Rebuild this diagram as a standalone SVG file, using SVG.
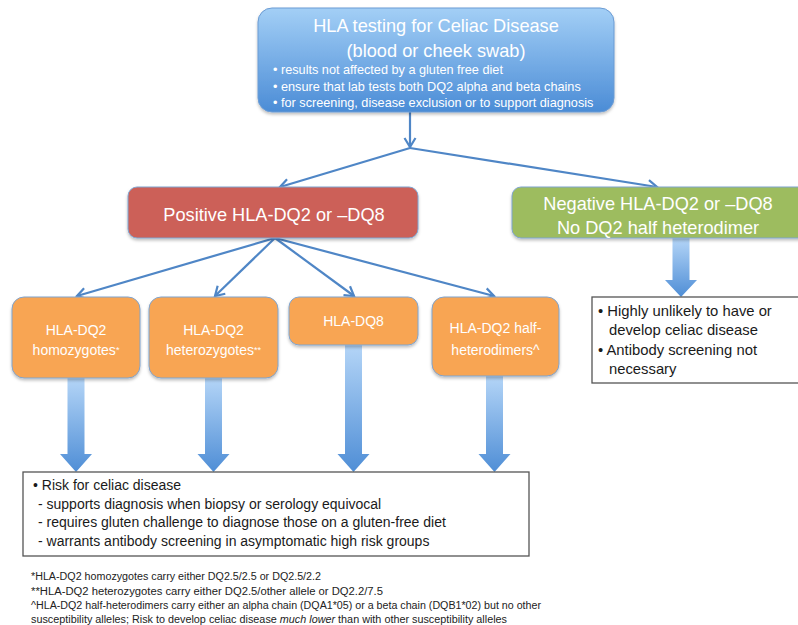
<svg xmlns="http://www.w3.org/2000/svg" width="798" height="625" viewBox="0 0 798 625">
<style>
text{font-family:"Liberation Sans",Arial,sans-serif}
.w{fill:#fff}
.t18{font-size:18.2px}
.t14{font-size:14px}
.b{font-size:12.7px}
.blk{fill:#1a1a1a;font-size:14px}
.neg{fill:#1a1a1a;font-size:14.8px}
.fn{fill:#222;font-size:10px}
.con{fill:none;stroke:#4f86c6;stroke-width:2.2;marker-end:url(#ah)}
.fat{fill:url(#fg);stroke:none}
.or{fill:#f8a553;stroke:#7fa4cf;stroke-width:1;filter:url(#sh)}
.box{fill:#fff;stroke:#555;stroke-width:1.3}
</style>
<defs>
<linearGradient id="tg" x1="0" y1="0" x2="0" y2="1">
<stop offset="0" stop-color="#a3cff6"/>
<stop offset="1" stop-color="#4b8cd6"/>
</linearGradient>
<linearGradient id="fg" x1="0" y1="0" x2="0" y2="1">
<stop offset="0" stop-color="#b4d5f7"/>
<stop offset="1" stop-color="#4f8ed6"/>
</linearGradient>
<filter id="sh" x="-10%" y="-10%" width="120%" height="130%">
<feDropShadow dx="0" dy="2" stdDeviation="1.5" flood-color="#000" flood-opacity="0.25"/>
</filter>
<marker id="ah" markerUnits="userSpaceOnUse" markerWidth="14" markerHeight="14" viewBox="0 0 14 14" refX="12" refY="7" orient="auto">
<path d="M3,1.5 L12,7 L3,12.5" fill="none" stroke="#4f86c6" stroke-width="2.2"/>
</marker>
</defs>

<g id="connectors">
<path class="con" d="M410,112 V147"/>
<path class="con" d="M410,148 L280,187"/>
<path class="con" d="M410,148 L657,187"/>
<path class="con" d="M275,238 L77,296"/>
<path class="con" d="M275,238 L215,296"/>
<path class="con" d="M275,238 L354,296"/>
<path class="con" d="M275,238 L494,296"/>
<path class="fat" d="M672.5,238 H689.5 V280 H697 L681,297 L665,280 H672.5 Z"/>
<path class="fat" d="M67.5,378 H84.5 V454 H92 L76,472 L60,454 H67.5 Z"/>
<path class="fat" d="M205,378 H222 V454 H229.5 L213.5,472 L197.5,454 H205 Z"/>
<path class="fat" d="M345,345 H362 V454 H369.5 L353.5,472 L337.5,454 H345 Z"/>
<path class="fat" d="M486,376 H503 V454 H510.5 L494.5,472 L478.5,454 H486 Z"/>
</g>

<g id="hla-testing">
<rect x="258" y="8" width="356" height="104" rx="14" fill="url(#tg)" stroke="#6b9bd3" stroke-width="1" filter="url(#sh)"/>
<text class="w t18" x="436" y="32" text-anchor="middle">HLA testing for Celiac Disease</text>
<text class="w t18" x="436" y="57" text-anchor="middle">(blood or cheek swab)</text>
<text class="w b" x="273" y="74">• results not affected by a gluten free diet</text>
<text class="w b" x="273" y="91">• ensure that lab tests both DQ2 alpha and beta chains</text>
<text class="w b" x="273" y="107">• for screening, disease exclusion or to support diagnosis</text>
</g>

<g id="positive">
<rect x="128" y="187" width="290" height="51" rx="9" fill="#cc6159" stroke="#7fa4cf" stroke-width="1" filter="url(#sh)"/>
<text class="w t18" x="274" y="221" text-anchor="middle">Positive HLA-DQ2 or –DQ8</text>
</g>

<g id="negative">
<rect x="512" y="187" width="300" height="51" rx="9" fill="#9dbc5e" stroke="#7fa4cf" stroke-width="1" filter="url(#sh)"/>
<text class="w t18" x="658" y="210" text-anchor="middle">Negative HLA-DQ2 or –DQ8</text>
<text class="w t18" x="658" y="234" text-anchor="middle">No DQ2 half heterodimer</text>
</g>

<g id="homozygotes">
<rect class="or" x="12" y="297" width="128" height="81" rx="12"/>
<text class="w t14" x="76" y="335" text-anchor="middle">HLA-DQ2</text>
<text class="w t14" x="76" y="355" text-anchor="middle">homozygotes<tspan font-size="9" dy="-2">*</tspan></text>
</g>

<g id="heterozygotes">
<rect class="or" x="149" y="297" width="129" height="81" rx="12"/>
<text class="w t14" x="213.5" y="335" text-anchor="middle">HLA-DQ2</text>
<text class="w t14" x="213.5" y="355" text-anchor="middle">heterozygotes<tspan font-size="9" dy="-2">**</tspan></text>
</g>

<g id="dq8">
<rect class="or" x="289" y="297" width="129" height="48" rx="10"/>
<text class="w t14" x="353.5" y="326" text-anchor="middle">HLA-DQ8</text>
</g>

<g id="half-heterodimers">
<rect class="or" x="432" y="297" width="127" height="79" rx="12"/>
<text class="w t14" x="495.5" y="333" text-anchor="middle">HLA-DQ2 half-</text>
<text class="w t14" x="495.5" y="355" text-anchor="middle">heterodimers^</text>
</g>

<g id="negative-result">
<rect class="box" x="592" y="297" width="215" height="86"/>
<text class="neg" x="598" y="316">• Highly unlikely to have or</text>
<text class="neg" x="609" y="335">develop celiac disease</text>
<text class="neg" x="598" y="355">• Antibody screening not</text>
<text class="neg" x="609" y="374">necessary</text>
</g>

<g id="risk">
<rect class="box" x="23" y="472" width="506" height="84"/>
<text class="blk" x="33" y="490">• Risk for celiac disease</text>
<text class="blk" x="38" y="509">- supports diagnosis when biopsy or serology equivocal</text>
<text class="blk" x="38" y="527">- requires gluten challenge to diagnose those on a gluten-free diet</text>
<text class="blk" x="38" y="546">- warrants antibody screening in asymptomatic high risk groups</text>
</g>

<g id="footnotes">
<text class="fn" x="31" y="580" textLength="290" lengthAdjust="spacingAndGlyphs">*HLA-DQ2 homozygotes carry either DQ2.5/2.5 or DQ2.5/2.2</text>
<text class="fn" x="31" y="595" textLength="352" lengthAdjust="spacingAndGlyphs">**HLA-DQ2 heterozygotes carry either DQ2.5/other allele or DQ2.2/7.5</text>
<text class="fn" x="31" y="609" textLength="510" lengthAdjust="spacingAndGlyphs">^HLA-DQ2 half-heterodimers carry either an alpha chain (DQA1*05) or a beta chain (DQB1*02) but no other</text>
<text class="fn" x="31" y="623" textLength="476" lengthAdjust="spacingAndGlyphs">susceptibility alleles; Risk to develop celiac disease <tspan font-style="italic">much lower</tspan> than with other susceptibility alleles</text>
</g>
</svg>
